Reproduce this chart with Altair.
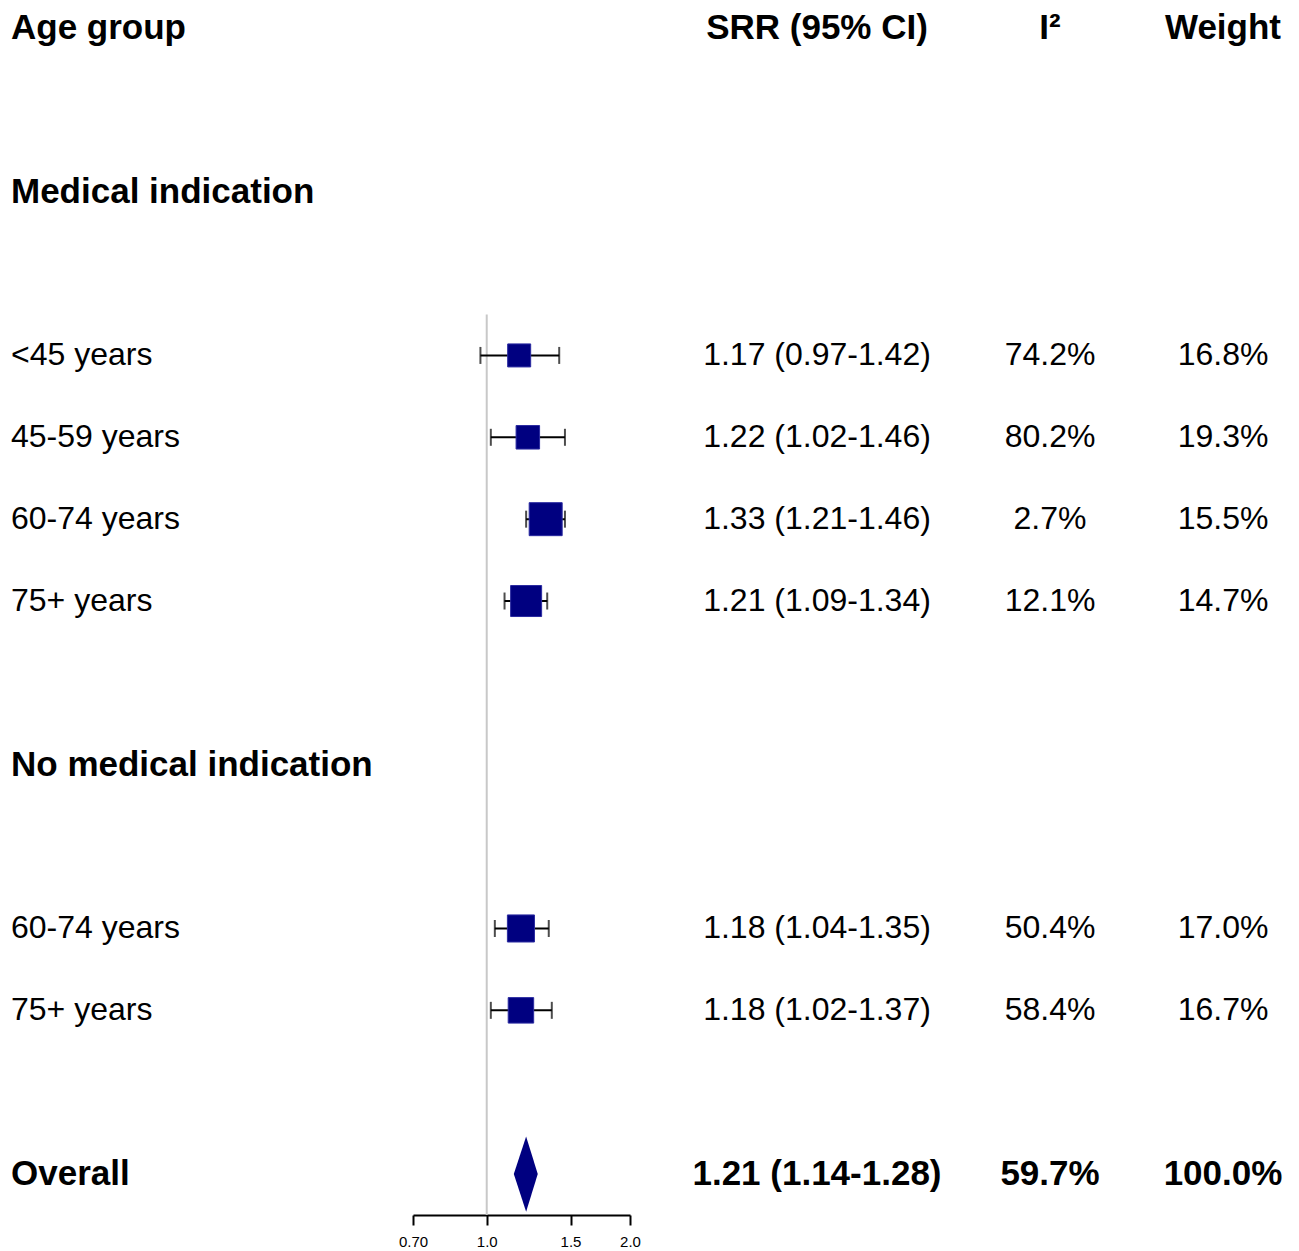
import altair as alt
import pandas as pd
import numpy as np

# ---------------- data ----------------
headers = ["Age group", "SRR (95% CI)", "I\u00b2", "Weight"]
subgroups = ["Medical indication", "No medical indication"]
subgroup_of = [0, 0, 0, 0, 1, 1]
groups = ["<45 years", "45-59 years", "60-74 years", "75+ years", "60-74 years", "75+ years"]
srr = [1.17, 1.22, 1.33, 1.21, 1.18, 1.18]
ci_lo = [0.97, 1.02, 1.21, 1.09, 1.04, 1.02]
ci_hi = [1.42, 1.46, 1.46, 1.34, 1.35, 1.37]
i2 = [74.2, 80.2, 2.7, 12.1, 50.4, 58.4]
weight = [16.8, 19.3, 15.5, 14.7, 17.0, 16.7]

overall_label = "Overall"
overall_srr, overall_lo, overall_hi = 1.21, 1.14, 1.28
overall_i2, overall_weight = 59.7, 100.0

axis_ticks = [0.70, 1.0, 1.5, 2.0]
axis_labels = ["0.70", "1.0", "1.5", "2.0"]
null_value = 1.0

# ---------------- row layout ----------------
study_rows = [None] * len(groups)
sub_rows = []
r = 2
for g, name in enumerate(subgroups):
    sub_rows.append(r)
    r += 2
    for i in range(len(groups)):
        if subgroup_of[i] == g:
            study_rows[i] = r
            r += 1
    r += 1
overall_row = r

texts = []  # row, col, text, bold
for c, h in enumerate(headers):
    texts.append((0, c, h, True))
for g, name in enumerate(subgroups):
    texts.append((sub_rows[g], 0, name, True))
for i in range(len(groups)):
    rr = study_rows[i]
    texts.append((rr, 0, groups[i], False))
    texts.append((rr, 1, f"{srr[i]:.2f} ({ci_lo[i]:.2f}-{ci_hi[i]:.2f})", False))
    texts.append((rr, 2, f"{i2[i]:.1f}%", False))
    texts.append((rr, 3, f"{weight[i]:.1f}%", False))
texts.append((overall_row, 0, overall_label, True))
texts.append((overall_row, 1, f"{overall_srr:.2f} ({overall_lo:.2f}-{overall_hi:.2f})", True))
texts.append((overall_row, 2, f"{overall_i2:.1f}%", True))
texts.append((overall_row, 3, f"{overall_weight:.1f}%", True))
text_df = pd.DataFrame(texts, columns=["row", "col", "text", "bold"])

se = (np.log(ci_hi) - np.log(ci_lo)) / 3.92
study_df = pd.DataFrame({
    "row": study_rows, "srr": srr, "lo": ci_lo, "hi": ci_hi,
    "w": 1.0 / se ** 2,
})

dh = 0.46
diamond_df = pd.DataFrame({
    "y": [overall_row - dh, overall_row, overall_row + dh],
    "xl": [overall_srr, overall_lo, overall_srr],
    "xr": [overall_srr, overall_hi, overall_srr],
})
ref_df = pd.DataFrame({"x": [null_value], "y1": [min(study_rows) - 0.5], "y2": [overall_row + 0.5]})

# ---------------- scales ----------------
H = 1207
yscale = alt.Scale(domain=[-0.244, overall_row + 0.5], reverse=True, nice=False, zero=False)
xscale = alt.Scale(type="log", domain=[axis_ticks[0], axis_ticks[-1]], nice=False, zero=False)

FONT = "Liberation Sans"

def text_panel(col, width, xoff, align):
    base = alt.Chart(text_df).transform_filter(alt.datum.col == col)
    reg = base.transform_filter("!datum.bold").mark_text(
        align=align, baseline="middle", fontSize=32, font=FONT, color="black"
    ).encode(x=alt.value(xoff), y=alt.Y("row:Q", scale=yscale, axis=None), text="text:N")
    bold = base.transform_filter("datum.bold").mark_text(
        align=align, baseline="middle", fontSize=35, fontWeight="bold", font=FONT, color="black"
    ).encode(x=alt.value(xoff), y=alt.Y("row:Q", scale=yscale, axis=None), text="text:N")
    return alt.layer(reg, bold).properties(width=width, height=H)

label_expr = " : ".join(
    f"abs(datum.value - {v}) < 1e-6 ? '{l}'" for v, l in zip(axis_ticks, axis_labels)
) + " : ''"

xaxis = alt.Axis(values=axis_ticks, labelExpr=label_expr, grid=False, title=None,
                 domainColor="black", domainWidth=2, tickColor="black", tickWidth=2,
                 tickSize=10, labelFontSize=15, labelFont=FONT, labelColor="black",
                 labelPadding=9, labelFlush=False, labelOverlap=False)

ref = alt.Chart(ref_df).mark_rule(color="#c8c8c8", strokeWidth=2).encode(
    x=alt.X("x:Q", scale=xscale, axis=xaxis),
    y=alt.Y("y1:Q", scale=yscale, axis=None), y2="y2:Q")
ci = alt.Chart(study_df).mark_rule(color="black", strokeWidth=2).encode(
    x=alt.X("lo:Q", scale=xscale), x2="hi:Q", y=alt.Y("row:Q", scale=yscale))
cap_lo = alt.Chart(study_df).mark_tick(orient="vertical", color="black", thickness=2, size=17).encode(
    x=alt.X("lo:Q", scale=xscale), y=alt.Y("row:Q", scale=yscale))
cap_hi = alt.Chart(study_df).mark_tick(orient="vertical", color="black", thickness=2, size=17).encode(
    x=alt.X("hi:Q", scale=xscale), y=alt.Y("row:Q", scale=yscale))
squares = alt.Chart(study_df).mark_square(filled=True, color="#000080", opacity=1,
                                         stroke="#2a2aa0", strokeWidth=1).encode(
    x=alt.X("srr:Q", scale=xscale), y=alt.Y("row:Q", scale=yscale),
    size=alt.Size("w:Q", scale=alt.Scale(zero=False, range=[529, 1089]), legend=None))
diamond = alt.Chart(diamond_df).mark_area(orient="horizontal", color="#000080", opacity=1).encode(
    y=alt.Y("y:Q", scale=yscale), x=alt.X("xl:Q", scale=xscale), x2="xr:Q")

forest = alt.layer(ref, ci, cap_lo, cap_hi, squares, diamond).properties(width=217, height=H)

chart = alt.hconcat(
    text_panel(0, 405, 3, "left"),
    forest,
    text_panel(1, 370, 187, "center"),
    text_panel(2, 100, 50, "center"),
    text_panel(3, 191, 123, "center"),
    spacing=0, bounds="flush",
).properties(padding=0).configure_view(strokeWidth=0)

chart.save("out.html", embed_options={"renderer": "svg", "actions": False})
